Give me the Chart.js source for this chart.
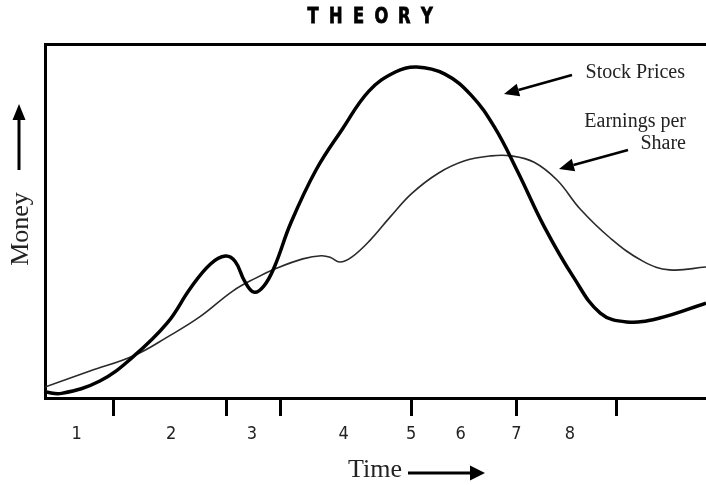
<!DOCTYPE html>
<html>
<head>
<meta charset="utf-8">
<script src="https://cdn.jsdelivr.net/npm/chart.js@4/dist/chart.umd.min.js"></script>
<style>
  html, body { margin: 0; padding: 0; background: #fff; }
  #wrap { width: 706px; height: 485px; }
</style>
</head>
<body>
<div id="wrap"><canvas id="c" width="706" height="485"></canvas></div>
<script>
// ---- data (time units 0..10, money units 0..10) ----
const titleText = 'THEORY';
const timeLabels = ['1', '2', '3', '4', '5', '6', '7', '8'];
const labelPositions = [0.48, 1.91, 3.13, 4.52, 5.54, 6.29, 7.13, 7.94];
const tickMarkPositions = [1.03, 2.75, 3.57, 5.54, 7.13, 8.65];

const stockTime  = [0, 0.25, 0.83, 1.33, 1.85, 2.20, 2.50, 2.73, 2.88, 3.02, 3.16, 3.31, 3.47, 3.72, 4.10, 4.50, 4.90, 5.30, 5.62, 6.05, 6.45, 6.80, 7.15, 7.55, 8.00, 8.40, 8.80, 9.30, 10.0];
const stockMoney = [0.17, 0.13, 0.48, 1.16, 2.12, 3.10, 3.78, 4.01, 3.85, 3.30, 2.99, 3.16, 3.70, 4.95, 6.44, 7.60, 8.67, 9.21, 9.35, 9.15, 8.55, 7.65, 6.40, 4.85, 3.40, 2.40, 2.15, 2.26, 2.68];

const epsTime  = [0, 0.68, 1.36, 1.85, 2.34, 2.84, 3.18, 3.51, 3.90, 4.18, 4.32, 4.46, 4.64, 4.92, 5.22, 5.55, 5.95, 6.35, 6.75, 7.05, 7.40, 7.75, 8.10, 8.55, 9.05, 9.45, 10.0];
const epsMoney = [0.31, 0.76, 1.21, 1.72, 2.29, 3.02, 3.38, 3.67, 3.93, 4.02, 3.97, 3.84, 3.98, 4.46, 5.11, 5.78, 6.35, 6.70, 6.84, 6.84, 6.66, 6.15, 5.33, 4.52, 3.86, 3.62, 3.70];

const seriesNames = ['Stock Prices', 'Earnings per Share'];
const yTitle = 'Money';
const xTitle = 'Time';

// ---- build ----
const toPts = (xs, ys) => xs.map((x, i) => ({ x: x, y: ys[i] }));
const allTicks = Array.from(new Set(labelPositions.concat(tickMarkPositions))).sort((a, b) => a - b);
const SERIF = '"Liberation Serif", "Times New Roman", serif';
const NARROW = '"Liberation Sans Narrow", "DejaVu Sans Condensed", "Liberation Sans", sans-serif';

function arrow(ctx, x1, y1, x2, y2, lw, headLen, headHalf) {
  const a = Math.atan2(y2 - y1, x2 - x1);
  const bx = x2 - headLen * Math.cos(a), by = y2 - headLen * Math.sin(a);
  ctx.save();
  ctx.strokeStyle = '#000'; ctx.fillStyle = '#000'; ctx.lineWidth = lw;
  ctx.beginPath(); ctx.moveTo(x1, y1); ctx.lineTo(bx, by); ctx.stroke();
  ctx.beginPath();
  ctx.moveTo(x2, y2);
  ctx.lineTo(bx + headHalf * Math.sin(a), by - headHalf * Math.cos(a));
  ctx.lineTo(bx - headHalf * Math.sin(a), by + headHalf * Math.cos(a));
  ctx.closePath(); ctx.fill();
  ctx.restore();
}

const annotations = {
  id: 'annotations',
  afterDraw(chart) {
    const ctx = chart.ctx;
    ctx.save();
    // title, spaced condensed capitals
    ctx.fillStyle = '#000';
    ctx.font = 'bold 22px ' + NARROW;
    ctx.textAlign = 'center'; ctx.textBaseline = 'middle';
    const chars = titleText.split('');
    const pitch = 22.8, cx = 370;
    chars.forEach((ch, i) => {
      const x = cx + (i - (chars.length - 1) / 2) * pitch;
      ctx.save(); ctx.translate(x, 17); ctx.scale(0.82, 1);
      ctx.lineWidth = 0.8; ctx.strokeStyle = '#000';
      ctx.strokeText(ch, 0, 0);
      ctx.fillText(ch, 0, 0); ctx.restore();
    });

    // series annotations
    ctx.fillStyle = '#222';
    ctx.font = '20px ' + SERIF;
    ctx.textAlign = 'right'; ctx.textBaseline = 'middle';
    ctx.fillText(seriesNames[0], 685, 73);
    ctx.fillText('Earnings per', 686, 122);
    ctx.fillText('Share', 686, 144);
    arrow(ctx, 572, 75, 504, 94, 2.5, 15, 6.5);
    arrow(ctx, 628, 150, 559, 169, 2.5, 15, 6.5);

    // y title with arrow
    ctx.save();
    ctx.translate(21, 229); ctx.rotate(-Math.PI / 2);
    ctx.font = '26px ' + SERIF; ctx.textAlign = 'center'; ctx.textBaseline = 'middle';
    ctx.fillStyle = '#222';
    ctx.fillText(yTitle, 0, 0);
    ctx.restore();
    arrow(ctx, 19, 170, 19, 104, 3, 16, 6.5);

    // x title with arrow
    ctx.font = '26px ' + SERIF; ctx.textAlign = 'center'; ctx.textBaseline = 'middle';
    ctx.fillStyle = '#222';
    ctx.fillText(xTitle, 375, 470);
    arrow(ctx, 408, 473, 485, 473, 3, 15, 7.5);
    ctx.restore();
  }
};

new Chart(document.getElementById('c'), {
  type: 'line',
  data: {
    datasets: [
      { label: seriesNames[0], data: toPts(stockTime, stockMoney), borderColor: '#000', borderWidth: 3.5,
        pointRadius: 0, tension: 0.4, fill: false, xAxisID: 'x', yAxisID: 'y' },
      { label: seriesNames[1], data: toPts(epsTime, epsMoney), borderColor: '#2a2a2a', borderWidth: 1.6,
        pointRadius: 0, tension: 0.4, fill: false, xAxisID: 'x', yAxisID: 'y' }
    ]
  },
  options: {
    responsive: false,
    animation: false,
    layout: { padding: 0 },
    plugins: { legend: { display: false }, tooltip: { enabled: false }, title: { display: false } },
    scales: {
      x: {
        type: 'linear', position: 'bottom', min: 0, max: 10,
        afterBuildTicks: (s) => { s.ticks = allTicks.map(v => ({ value: v })); },
        afterFit: (s) => { s.height = 87; },
        grid: {
          display: true, drawOnChartArea: false, drawTicks: true, tickLength: 18, tickWidth: 3,
          color: 'rgba(0,0,0,0)',
          tickColor: (c) => (c.tick && tickMarkPositions.includes(c.tick.value)) ? '#000' : 'rgba(0,0,0,0)'
        },
        border: { display: true, color: '#000', width: 3 },
        ticks: {
          autoSkip: false, maxRotation: 0, minRotation: 0, padding: 8, color: '#222',
          font: { family: NARROW, size: 18 },
          callback: (v) => { const i = labelPositions.indexOf(v); return i >= 0 ? timeLabels[i] : ''; }
        }
      },
      xTop: {
        type: 'linear', position: 'top', min: 0, max: 10,
        afterFit: (s) => { s.height = 44; },
        grid: { display: false }, ticks: { display: false },
        border: { display: true, color: '#000', width: 3 }
      },
      y: {
        type: 'linear', position: 'left', min: 0, max: 10,
        afterFit: (s) => { s.width = 45; },
        grid: { display: false }, ticks: { display: false },
        border: { display: true, color: '#000', width: 3 }
      }
    }
  },
  plugins: [annotations]
});
</script>
</body>
</html>
